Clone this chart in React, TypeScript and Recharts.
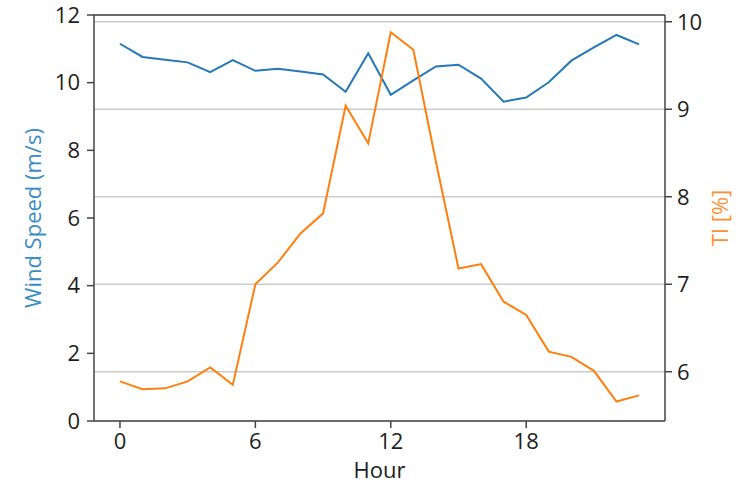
import {
  CartesianGrid,
  Line,
  LineChart,
  ReferenceLine,
  XAxis,
  YAxis,
} from "recharts";

const hours = [0, 1, 2, 3, 4, 5, 6, 7, 8, 9, 10, 11, 12, 13, 14, 15, 16, 17, 18, 19, 20, 21, 22, 23];
const windSpeed = [
  11.15, 10.76, 10.68, 10.6, 10.31, 10.67, 10.35, 10.41, 10.33, 10.24, 9.73, 10.87,
  9.64, 10.07, 10.48, 10.53, 10.12, 9.44, 9.56, 10.01, 10.65, 11.04, 11.41, 11.13,
];
const turbulence = [
  5.89, 5.8, 5.81, 5.89, 6.05, 5.85, 7.0, 7.25, 7.58, 7.81, 9.04, 8.61,
  9.88, 9.68, 8.4, 7.18, 7.23, 6.8, 6.65, 6.23, 6.17, 6.01, 5.66, 5.73,
];
const hourTicks = [0, 6, 12, 18];
const speedTicks = [0, 2, 4, 6, 8, 10, 12];
const tiTicks = [6, 7, 8, 9, 10];

const data = hours.map((h, i) => ({ hour: h, speed: windSpeed[i], ti: turbulence[i] }));

const BLUE = "#2479b6";
const ORANGE = "#ff7f0e";
const SPINE = "#444444";
const font = "Open Sans";
const tickStyle = { fill: "#1e1e1e", fontSize: 22, fontFamily: font };

const App = () => {
  return (
    <div style={{ position: "absolute", left: 0, top: 0, background: "#fff" }}>
      <LineChart
        width={756}
        height={488}
        data={data}
        margin={{ top: 15, right: 0, bottom: 0, left: 0 }}
      >
        <CartesianGrid
          yAxisId="right"
          vertical={false}
          stroke="#cccccc"
          strokeWidth={1.5}
        />
        <XAxis
          dataKey="hour"
          type="number"
          domain={[-1.15, 24.15]}
          ticks={hourTicks}
          allowDataOverflow
          height={67}
          tickSize={7}
          tickMargin={5}
          tick={tickStyle}
          stroke={SPINE}
          strokeWidth={1.5}
          label={{
            value: "Hour",
            position: "center",
            dy: 16,
            fill: "#1e1e1e",
            fontSize: 22,
            fontFamily: font,
          }}
        />
        <YAxis
          yAxisId="left"
          orientation="left"
          domain={[0, 12]}
          ticks={speedTicks}
          width={94}
          tickSize={7}
          tickMargin={7}
          tick={tickStyle}
          stroke={SPINE}
          strokeWidth={1.5}
          label={{
            value: "Wind Speed (m/s)",
            angle: -90,
            position: "center",
            dx: -14,
            fill: "#3a8cc4",
            fontSize: 22,
            fontFamily: font,
          }}
        />
        <YAxis
          yAxisId="right"
          orientation="right"
          domain={[5.437, 10.077]}
          ticks={tiTicks}
          allowDataOverflow
          width={91}
          tickSize={7}
          tickMargin={5}
          tick={tickStyle}
          stroke={SPINE}
          strokeWidth={1.5}
          label={{
            value: "TI [%]",
            angle: -90,
            position: "center",
            dx: 10,
            fill: "#ff8f2e",
            fontSize: 22,
            fontFamily: font,
          }}
        />
        <ReferenceLine yAxisId="left" y={12} stroke={SPINE} strokeWidth={1.5} />
        <Line
          yAxisId="left"
          dataKey="speed"
          stroke={BLUE}
          strokeWidth={2}
          dot={false}
          isAnimationActive={false}
        />
        <Line
          yAxisId="right"
          dataKey="ti"
          stroke={ORANGE}
          strokeWidth={2}
          dot={false}
          isAnimationActive={false}
        />
      </LineChart>
    </div>
  );
};

export default App;
